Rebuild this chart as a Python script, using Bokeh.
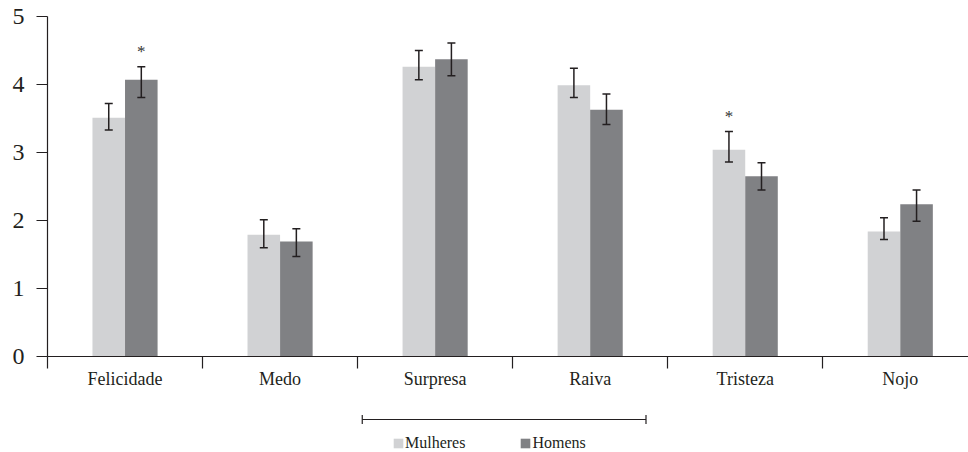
from bokeh.plotting import figure
from bokeh.models import (ColumnDataSource, Whisker, FixedTicker, Legend, LegendItem,
                          TeeHead, Range1d)
from bokeh.layouts import column
from bokeh.embed import file_html
from bokeh.resources import INLINE
from bokeh.core.properties import value

# ---------------- data ----------------
categories = ["Felicidade", "Medo", "Surpresa", "Raiva", "Tristeza", "Nojo"]
mulheres = [3.51, 1.79, 4.26, 3.99, 3.04, 1.84]
mulheres_lo = [3.33, 1.60, 4.07, 3.81, 2.86, 1.72]
mulheres_hi = [3.72, 2.01, 4.50, 4.24, 3.31, 2.04]
homens = [4.07, 1.69, 4.37, 3.63, 2.65, 2.24]
homens_lo = [3.81, 1.47, 4.13, 3.41, 2.45, 1.99]
homens_hi = [4.26, 1.88, 4.61, 3.86, 2.85, 2.45]
stars_m = ["", "", "", "", "*", ""]
stars_h = ["*", "", "", "", "", ""]
series_names = ["Mulheres", "Homens"]
y_ticks = [0, 1, 2, 3, 4, 5]

# ---------------- styles ----------------
FONT = "Liberation Serif"
INK = "#231f20"
LIGHT = "#d1d2d4"
DARK = "#808184"
BAR_W = 0.21
OFF = 0.105

centers = [i + 0.5 for i in range(len(categories))]
bounds = list(range(len(categories) + 1))

src_m = ColumnDataSource(dict(x=[c - OFF for c in centers], top=mulheres,
                              lo=mulheres_lo, hi=mulheres_hi, star=stars_m))
src_h = ColumnDataSource(dict(x=[c + OFF for c in centers], top=homens,
                              lo=homens_lo, hi=homens_hi, star=stars_h))

W = 968
p = figure(width=W, height=400, output_backend="svg", toolbar_location=None,
           x_range=Range1d(0, 5.94), y_range=Range1d(0, 5),
           min_border_left=47, min_border_right=0, min_border_top=16,
           min_border_bottom=44)
p.outline_line_color = None
p.grid.visible = False

p.vbar(x="x", top="top", width=BAR_W, bottom=0, source=src_m,
       fill_color=LIGHT, line_color=None)
p.vbar(x="x", top="top", width=BAR_W, bottom=0, source=src_h,
       fill_color=DARK, line_color=None)

for src in (src_m, src_h):
    w = Whisker(base="x", lower="lo", upper="hi", source=src, level="overlay",
                line_color=INK, line_width=1.5,
                upper_head=TeeHead(size=8, line_color=INK, line_width=1.5),
                lower_head=TeeHead(size=8, line_color=INK, line_width=1.5))
    p.add_layout(w)
    p.text(x="x", y="hi", text="star", source=src, text_align="center",
           text_baseline="alphabetic", y_offset=-15,
           text_font=value(FONT), text_font_size="17px", text_color="#333333")

# y axis
ya = p.yaxis[0]
ya.ticker = FixedTicker(ticks=y_ticks)
ya.axis_line_color = INK
ya.axis_line_width = 1.2
ya.major_tick_line_color = INK
ya.major_tick_line_width = 1.2
ya.major_tick_out = 11
ya.major_tick_in = 0
ya.minor_tick_line_color = None
ya.major_label_standoff = 12
ya.major_label_text_font = FONT
ya.major_label_text_font_size = "24px"
ya.major_label_text_color = INK

# x axis
xa = p.xaxis[0]
xa.ticker = FixedTicker(ticks=centers, minor_ticks=bounds)
xa.major_label_overrides = {c: name for c, name in zip(centers, categories)}
xa.axis_line_color = INK
xa.axis_line_width = 1.2
xa.major_tick_line_color = None
xa.major_tick_out = 12
xa.major_tick_in = 0
xa.minor_tick_line_color = INK
xa.minor_tick_line_width = 1.2
xa.minor_tick_out = 12
xa.minor_tick_in = 0
xa.major_label_standoff = 0
xa.major_label_text_font = FONT
xa.major_label_text_font_size = "18px"
xa.major_label_text_color = INK

# ---------------- legend strip ----------------
p2 = figure(width=W, height=52, output_backend="svg", toolbar_location=None,
            x_range=p.x_range, y_range=Range1d(0, 52),
            min_border_left=47, min_border_right=0, min_border_top=0,
            min_border_bottom=0)
p2.outline_line_color = None
p2.grid.visible = False
p2.axis.visible = False

bracket = Whisker(dimension="width", base=33, lower=2.03, upper=3.86,
                  line_color=INK, line_width=1.2, level="overlay",
                  upper_head=TeeHead(size=9, line_color=INK, line_width=1.2),
                  lower_head=TeeHead(size=9, line_color=INK, line_width=1.2))
p2.add_layout(bracket)

dummy = dict(x=[0], top=[0])
r_m = p2.vbar(x="x", top="top", bottom=0, width=0.1, source=ColumnDataSource(dummy),
              fill_color=LIGHT, line_color=None)
r_h = p2.vbar(x="x", top="top", bottom=0, width=0.1, source=ColumnDataSource(dummy),
              fill_color=DARK, line_color=None)
leg = Legend(items=[LegendItem(label=series_names[0], renderers=[r_m]),
                    LegendItem(label=series_names[1], renderers=[r_h])],
             orientation="horizontal", location=(345, 0),
             glyph_width=12, glyph_height=12, label_standoff=1,
             spacing=54, padding=0, margin=0, label_height=12,
             label_text_font=FONT, label_text_font_size="16px",
             label_text_color=INK, background_fill_alpha=0,
             border_line_color=None)
p2.add_layout(leg)

layout = column(p, p2, spacing=0)
open("out.html", "w").write(file_html(layout, INLINE))
